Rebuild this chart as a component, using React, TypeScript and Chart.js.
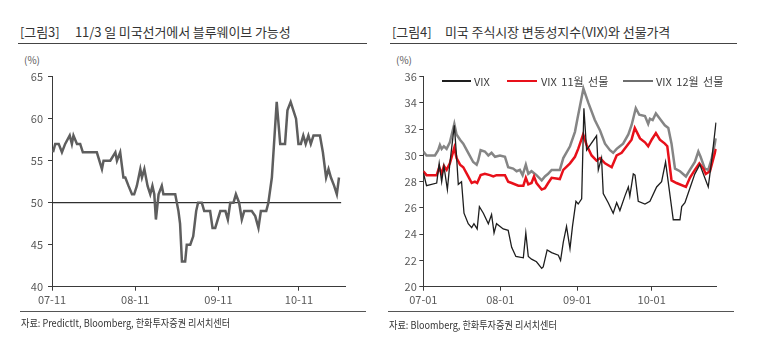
import React, { useEffect, useRef } from "react";
import Chart from "chart.js/auto";

const FONT = '"Noto Sans CJK KR", "Noto Sans", sans-serif';

// ---- Left chart: Blue wave probability (%), x in days since 07-11 ----
const leftTickDays = [0, 31, 62, 92];
const leftTickLabels = ["07-11", "08-11", "09-11", "10-11"];
const blueWaveDays = [
  0.4, 1.2, 2.5, 3.7, 4.9, 6.6, 7.4, 8.0, 9.3, 10.5, 11.5, 16.7, 18.6, 19.2, 21.7, 23.6, 24.2, 25.4,
  26.6, 27.3, 28.5, 29.8, 30.6, 31.6, 32.9, 33.5, 34.4, 35.6, 36.6, 37.4, 38.1, 38.7, 39.7, 40.9, 41.5,
  45.9, 47.1, 47.7, 48.4, 49.6, 50.2, 51.5, 52.6, 53.7, 54.4, 55.8, 56.7, 58.9, 59.8, 60.8, 62.7, 64.6,
  65.5, 66.4, 67.6, 68.5, 69.7, 70.7, 71.6, 74.4, 75.7, 76.9, 77.8, 79.8, 80.6, 81.9, 82.7, 83.7, 85.0,
  86.8, 87.7, 88.9, 89.9, 90.9, 91.8, 92.7, 93.6, 94.5, 95.5, 96.4, 97.4, 99.8, 100.9, 102.1, 103.0,
  103.9, 105.1, 106.1, 106.9,
];
const blueWaveValues = [
  56, 57, 57, 56, 57, 58, 57, 58, 57, 57, 56, 56, 54, 55, 55, 56, 55, 56,
  53, 53, 52, 51, 51, 52, 54, 53, 54, 52, 51, 52, 51, 48, 51, 52, 51,
  51, 49, 47.5, 43, 43, 45, 45, 46, 49, 50, 50, 49, 49, 47, 47, 49, 49,
  48, 50, 50, 51, 50, 48, 49, 49, 48.4, 47, 49, 49, 50, 53, 57, 62, 57,
  57, 61, 62, 61, 60, 57, 57, 58, 57, 58, 57, 58, 58, 56, 53, 54,
  53, 52, 51, 53,
];
const thresholdDays = [0, 107.7];
const thresholdValues = [50, 50];

// ---- Right chart: VIX and futures, x in days since 07-01 ----
const rightTickDays = [0, 31, 62, 92];
const rightTickLabels = ["07-01", "08-01", "09-01", "10-01"];
const vixDays = [
  0, 1.3, 5.4, 6.4, 7.4, 8.3, 9.7, 10.7, 12.5, 13.4, 14.1, 15.4, 16.4, 18.1, 19.5, 20.4, 21.7, 22.6,
  24.2, 26.2, 27.5, 28.5, 29.5, 32.2, 34.2, 35.6, 37.3, 40.3, 41.3, 42.3, 43.6, 45.6, 47.7, 48.3, 49.9,
  51.7, 54.4, 55.3, 56.4, 57.7, 59.1, 60.1, 61.5, 62.4, 63.8, 64.7, 65.8, 69.8, 70.5, 71.8, 72.5, 74.5,
  76.5, 77.9, 79.2, 81.2, 82.6, 83.2, 84.6, 85.3, 86.6, 89.3, 91.3, 94.0, 96.0, 97.6, 100.7, 103.4,
  104.1, 105.4, 107.4, 109.4, 111.4, 113.4, 114.8, 116.1, 117.9,
];
const vixValues = [
  28.7, 27.7, 27.9, 29.4, 28.0, 29.2, 27.4, 29.4, 32.3, 29.9, 27.8, 28.0, 25.6, 24.8, 24.5, 24.8, 24.4, 26.1,
  25.6, 24.8, 25.5, 24.1, 24.8, 24.4, 24.3, 23.0, 22.3, 22.2, 24.1, 22.3, 22.1, 21.9, 21.4, 21.5, 22.8,
  22.6, 22.4, 22.0, 23.4, 24.6, 22.9, 24.6, 26.5, 26.3, 26.7, 33.6, 30.4, 31.5, 28.9, 29.8, 27.1, 26.4,
  25.6, 26.4, 25.8, 26.9, 27.6, 26.9, 28.6, 28.5, 26.5, 26.3, 26.5, 27.6, 28.0, 29.5, 25.1, 25.1,
  26.1, 26.4, 27.5, 28.6, 29.3, 28.3, 27.6, 29.5, 32.5,
];
const novDays = [
  0, 1.3, 5.4, 6.4, 7.4, 8.3, 9.4, 10.7, 12.5, 13.4, 14.8, 16.1, 18.1, 19.5, 20.8, 21.7, 23.1, 24.8,
  26.8, 28.2, 29.5, 32.9, 34.2, 35.6, 38.3, 40.3, 41.3, 42.3, 43.6, 44.6, 45.6, 47.7, 49.0, 50.3, 51.7,
  55.0, 56.4, 59.1, 61.1, 62.4, 64.4, 65.8, 67.8, 69.8, 71.2, 73.2, 75.9, 77.9, 79.9, 81.9, 83.9, 85.2,
  87.3, 89.3, 90.6, 92.0, 93.7, 95.3, 97.3, 98.3, 100.0, 102.0, 105.8, 107.4, 109.4, 111.2, 112.8,
  113.8, 115.5, 117.9,
];
const novValues = [
  28.8, 28.5, 28.5, 29.1, 28.6, 29.2, 28.9, 29.4, 30.6, 29.8, 29.3, 29.1, 28.4, 27.9, 28.0, 27.9, 28.5, 28.6,
  28.5, 28.4, 28.5, 28.5, 28.0, 27.9, 27.7, 27.7, 28.3, 27.8, 27.9, 28.4, 27.9, 27.4, 27.5, 27.9, 28.3,
  28.2, 28.9, 29.4, 29.9, 30.5, 31.6, 30.8, 30.0, 29.6, 29.8, 29.4, 29.1, 30.0, 30.2, 30.7, 31.2, 32.1,
  31.3, 31.0, 30.7, 31.2, 31.7, 31.2, 30.9, 30.7, 28.1, 27.9, 27.6, 28.3, 28.9, 29.4, 29.0,
  28.6, 28.8, 30.5,
];
const decDays = [
  0, 1.3, 4.7, 6.0, 6.7, 7.4, 8.3, 9.4, 10.7, 12.5, 13.4, 14.8, 16.1, 18.1, 20.1, 21.5, 22.1, 23.1,
  24.8, 26.2, 27.5, 28.9, 30.9, 32.9, 34.2, 36.2, 37.6, 38.9, 40.0, 41.3, 42.3, 43.6, 45.6, 47.7, 49.0,
  50.3, 51.7, 55.0, 56.4, 59.1, 61.1, 62.1, 64.5, 66.5, 69.1, 71.2, 73.2, 75.2, 76.5, 77.9, 79.2, 80.5,
  82.6, 83.9, 85.6, 87.0, 89.3, 90.6, 91.3, 92.4, 93.7, 95.3, 97.3, 98.7, 100.0, 101.4, 103.4, 105.8,
  107.4, 109.4, 110.8, 111.7, 113.4, 114.8, 116.1, 117.9,
];
const decValues = [
  30.3, 30.0, 30.0, 30.4, 30.8, 30.5, 30.7, 30.5, 31.0, 32.4, 31.6, 31.2, 30.9, 30.2, 29.5, 29.3, 29.6, 30.4,
  30.3, 30.0, 30.2, 29.9, 30.0, 29.9, 29.1, 29.0, 28.8, 28.9, 28.5, 29.3, 28.6, 28.8, 28.5, 28.1, 28.4,
  28.6, 28.9, 28.9, 29.8, 30.7, 31.8, 32.8, 35.1, 34.0, 32.7, 31.9, 30.9, 30.4, 30.2, 30.5, 30.7, 30.9,
  31.6, 32.3, 33.6, 33.1, 33.0, 32.4, 32.8, 32.7, 33.2, 32.8, 32.3, 32.1, 30.9, 29.0, 28.8, 28.4,
  28.9, 29.5, 30.3, 29.9, 29.0, 28.9, 29.7, 31.3,
];

const toPoints = (xs: number[], ys: number[]) => xs.map((x, i) => ({ x, y: ys[i] }));

const TICK_COLOR = "#595959";
const AXIS_COLOR = "#3a3a3a";

function buildOptions(p: {
  xMax: number;
  yMin: number;
  yMax: number;
  yStep: number;
  tickDays: number[];
  tickLabels: string[];
  yWidth: number;
  padRight: number;
  yPad: number;
}) {
  return {
    animation: false,
    responsive: false,
    maintainAspectRatio: false,
    devicePixelRatio: 1,
    layout: { padding: { top: 14.7, right: p.padRight, bottom: 0, left: 0 } },
    plugins: { legend: { display: false }, tooltip: { enabled: false } },
    elements: { point: { radius: 0 }, line: { tension: 0 } },
    scales: {
      x: {
        type: "linear",
        min: 0,
        max: p.xMax,
        afterBuildTicks: (s: any) => {
          s.ticks = p.tickDays.map((v) => ({ value: v }));
        },
        afterFit: (s: any) => {
          s.height = 25.3;
        },
        ticks: {
          autoSkip: false,
          maxRotation: 0,
          padding: 3,
          color: TICK_COLOR,
          font: { family: FONT, size: 11 },
          callback: (v: number) => {
            const i = p.tickDays.indexOf(v);
            return i >= 0 ? p.tickLabels[i] : "";
          },
        },
        grid: { drawOnChartArea: false, drawTicks: true, tickLength: 4, color: AXIS_COLOR, lineWidth: 1 },
        border: { display: true, color: AXIS_COLOR, width: 1 },
      },
      y: {
        min: p.yMin,
        max: p.yMax,
        afterFit: (s: any) => {
          s.width = p.yWidth;
        },
        ticks: {
          stepSize: p.yStep,
          padding: p.yPad,
          color: TICK_COLOR,
          font: { family: FONT, size: 11 },
        },
        grid: { drawOnChartArea: false, drawTicks: true, tickLength: 4, color: AXIS_COLOR, lineWidth: 1 },
        border: { display: true, color: AXIS_COLOR, width: 1 },
      },
    },
  };
}

function LeftChart() {
  const ref = useRef<HTMLCanvasElement | null>(null);
  useEffect(() => {
    if (!ref.current) return;
    const chart = new Chart(ref.current, {
      type: "line",
      data: {
        datasets: [
          {
            data: toPoints(blueWaveDays, blueWaveValues),
            borderColor: "#5e5e5e",
            borderWidth: 2.5,
            pointRadius: 0,
            order: 0,
          },
          {
            data: toPoints(thresholdDays, thresholdValues),
            borderColor: "#2f2f2f",
            borderWidth: 1.2,
            pointRadius: 0,
            order: 1,
          },
        ],
      },
      options: buildOptions({
        xMax: 109.4,
        yMin: 40,
        yMax: 65,
        yStep: 5,
        tickDays: leftTickDays,
        tickLabels: leftTickLabels,
        yWidth: 52,
        padRight: 39.3,
        yPad: 5,
      }) as any,
    });
    return () => chart.destroy();
  }, []);
  return (
    <canvas
      ref={ref}
      width={385}
      height={250}
      style={{ position: "absolute", left: 0, top: 62, width: 385, height: 250 }}
    />
  );
}

function RightChart() {
  const ref = useRef<HTMLCanvasElement | null>(null);
  useEffect(() => {
    if (!ref.current) return;
    const chart = new Chart(ref.current, {
      type: "line",
      data: {
        datasets: [
          {
            label: "VIX",
            data: toPoints(vixDays, vixValues),
            borderColor: "#1e1e1e",
            borderWidth: 1.3,
            pointRadius: 0,
            order: 0,
          },
          {
            label: "VIX 11월 선물",
            data: toPoints(novDays, novValues),
            borderColor: "#e8101a",
            borderWidth: 2.5,
            pointRadius: 0,
            order: 1,
          },
          {
            label: "VIX 12월 선물",
            data: toPoints(decDays, decValues),
            borderColor: "#858585",
            borderWidth: 2.5,
            pointRadius: 0,
            order: 2,
          },
        ],
      },
      options: buildOptions({
        xMax: 118.2,
        yMin: 20,
        yMax: 36,
        yStep: 2,
        tickDays: rightTickDays,
        tickLabels: rightTickLabels,
        yWidth: 43.3,
        padRight: 63.3,
        yPad: 2.5,
      }) as any,
    });
    return () => chart.destroy();
  }, []);
  return (
    <canvas
      ref={ref}
      width={400}
      height={250}
      style={{ position: "absolute", left: 380, top: 62, width: 400, height: 250 }}
    />
  );
}

const textBase: React.CSSProperties = {
  position: "absolute",
  fontFamily: FONT,
  whiteSpace: "pre",
  lineHeight: "1",
};

function LegendItem(props: { x: number; lineW: number; color: string; thick: number; textX: number; label: string }) {
  return (
    <>
      <div
        style={{
          position: "absolute",
          left: props.x,
          top: 81 - props.thick / 2,
          width: props.lineW,
          height: props.thick,
          background: props.color,
        }}
      />
      <div
        style={{
          ...textBase,
          left: props.textX,
          top: 75.5,
          fontSize: 11,
          color: "#404040",
          wordSpacing: "2px",
        }}
      >
        {props.label}
      </div>
    </>
  );
}

const titleStyle: React.CSSProperties = {
  ...textBase,
  top: 25,
  fontSize: 13,
  color: "#333",
  letterSpacing: "-0.1px",
};

export default function App() {
  return (
    <div style={{ position: "absolute", left: 0, top: 0, width: 780, height: 353, background: "#fff", overflow: "hidden" }}>
      {/* Left panel titles */}
      <div style={{ ...titleStyle, left: 20 }}>[그림3]</div>
      <div style={{ ...titleStyle, left: 75 }}>11/3 일 미국선거에서 블루웨이브 가능성</div>
      <div style={{ position: "absolute", left: 18, top: 43, width: 349, height: 1, background: "#444" }} />
      <div style={{ ...textBase, left: 24, top: 55, fontSize: 10, color: TICK_COLOR }}>(%)</div>

      {/* Right panel titles */}
      <div style={{ ...titleStyle, left: 392 }}>[그림4]</div>
      <div style={{ ...titleStyle, left: 445 }}>미국 주식시장 변동성지수(VIX)와 선물가격</div>
      <div style={{ position: "absolute", left: 390, top: 43, width: 347, height: 1, background: "#444" }} />
      <div style={{ ...textBase, left: 396, top: 55, fontSize: 10, color: TICK_COLOR }}>(%)</div>

      <LeftChart />
      <RightChart />

      {/* Right legend */}
      <LegendItem x={442} lineW={29} color="#1e1e1e" thick={1.5} textX={474} label="VIX" />
      <LegendItem x={507} lineW={30} color="#e8101a" thick={2.5} textX={541} label="VIX 11월 선물" />
      <LegendItem x={623} lineW={30} color="#6e6e6e" thick={2} textX={656} label="VIX 12월 선물" />

      {/* Source lines */}
      <div style={{ position: "absolute", left: 20, top: 311, width: 346, height: 1, background: "#555" }} />
      <div style={{ position: "absolute", left: 388, top: 311, width: 346, height: 1, background: "#555" }} />
      <div
        style={{
          ...textBase,
          left: 21,
          top: 318,
          fontSize: 10.5,
          color: "#333",
          transform: "scaleX(0.87)",
          transformOrigin: "left top",
        }}
      >
        자료: PredictIt, Bloomberg, 한화투자증권 리서치센터
      </div>
      <div
        style={{
          ...textBase,
          left: 389,
          top: 320,
          fontSize: 10.5,
          color: "#333",
          transform: "scaleX(0.87)",
          transformOrigin: "left top",
        }}
      >
        자료: Bloomberg, 한화투자증권 리서치센터
      </div>
    </div>
  );
}
